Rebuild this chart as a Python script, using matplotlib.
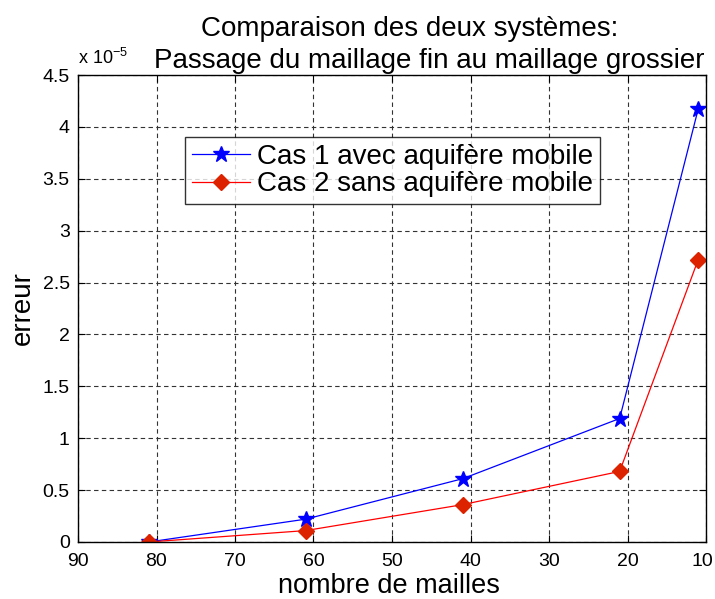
import matplotlib

matplotlib.use("Agg")
import matplotlib.pyplot as plt
import matplotlib.transforms as mtransforms

# nombre de mailles (x) et erreur en unites de 1e-5 (y)
nb_mailles = [81, 61, 41, 21, 11]
erreur_cas1 = [0.0, 0.22, 0.61, 1.19, 4.17]
erreur_cas2 = [0.0, 0.11, 0.36, 0.68, 2.72]

labels = ["Cas 1 avec aquifère mobile", "Cas 2 sans aquifère mobile"]
titre = ["Comparaison des deux systèmes:", "Passage du maillage fin au maillage grossier"]
x_ticks = [90, 80, 70, 60, 50, 40, 30, 20, 10]
y_ticks = [0, 0.5, 1, 1.5, 2, 2.5, 3, 3.5, 4, 4.5]

plt.rcParams["font.family"] = ["Liberation Sans", "DejaVu Sans"]

W, H = 715, 599
fig = plt.figure(figsize=(W / 100, H / 100), dpi=100)
ax = fig.add_axes([78 / W, 57 / H, 628 / W, 467 / H])

ax.plot(nb_mailles, erreur_cas1, "-", color="blue", lw=0.9, marker="*",
        ms=12, mfc="blue", mec="blue", label=labels[0])
ax.plot(nb_mailles, erreur_cas2, "-", color="red", lw=0.9, marker="D",
        ms=8, mfc="#dd2200", mec="#dd2200", label=labels[1])

ax.set_xlim(90, 10)
ax.set_ylim(0, 4.5)
ax.set_xticks(x_ticks)
ax.set_yticks(y_ticks)
ax.set_yticklabels(["0", "0.5", "1", "1.5", "2", "2.5", "3", "3.5", "4", "4.5"])

ax.grid(True, color="#333333", linestyle=(0, (4, 3)), linewidth=0.8)
ax.tick_params(direction="in", top=True, right=True, labelsize=14, length=5, width=0.8)
ax.tick_params(axis="x", pad=8)
ax.tick_params(axis="y", pad=6)
for s in ax.spines.values():
    s.set_linewidth(1.0)

# the last x label sits on the figure edge; nudge it a few pixels left
last = ax.get_xticklabels()[-1]
last.set_transform(last.get_transform() +
                   mtransforms.ScaledTranslation(-4 / 100, 0, fig.dpi_scale_trans))

ax.set_ylabel("erreur", fontsize=20, labelpad=5)
# x label and title placed by baseline, as in the reference
fig.text(389 / W, 1 - 593 / H, "nombre de mailles", fontsize=19.5,
         ha="center", va="baseline")
fig.text(410 / W, 1 - 36 / H, titre[0], fontsize=20, ha="center", va="baseline")
fig.text(429 / W, 1 - 68 / H, titre[1], fontsize=20, ha="center", va="baseline")
fig.text(78 / W, 1 - 64 / H, r"x 10$^{\mathregular{-5}}$", fontsize=13,
         ha="left", va="baseline")

leg = ax.legend(loc="upper left", bbox_to_anchor=(107 / 628, 1 - 62 / 467),
                fontsize=20, frameon=True, fancybox=False, edgecolor="black",
                borderpad=0.25, labelspacing=0.05, handlelength=2.1,
                handletextpad=0.25, borderaxespad=0)
leg.get_frame().set_linewidth(1.0)

fig.savefig("out.png", dpi=100, facecolor="white")
